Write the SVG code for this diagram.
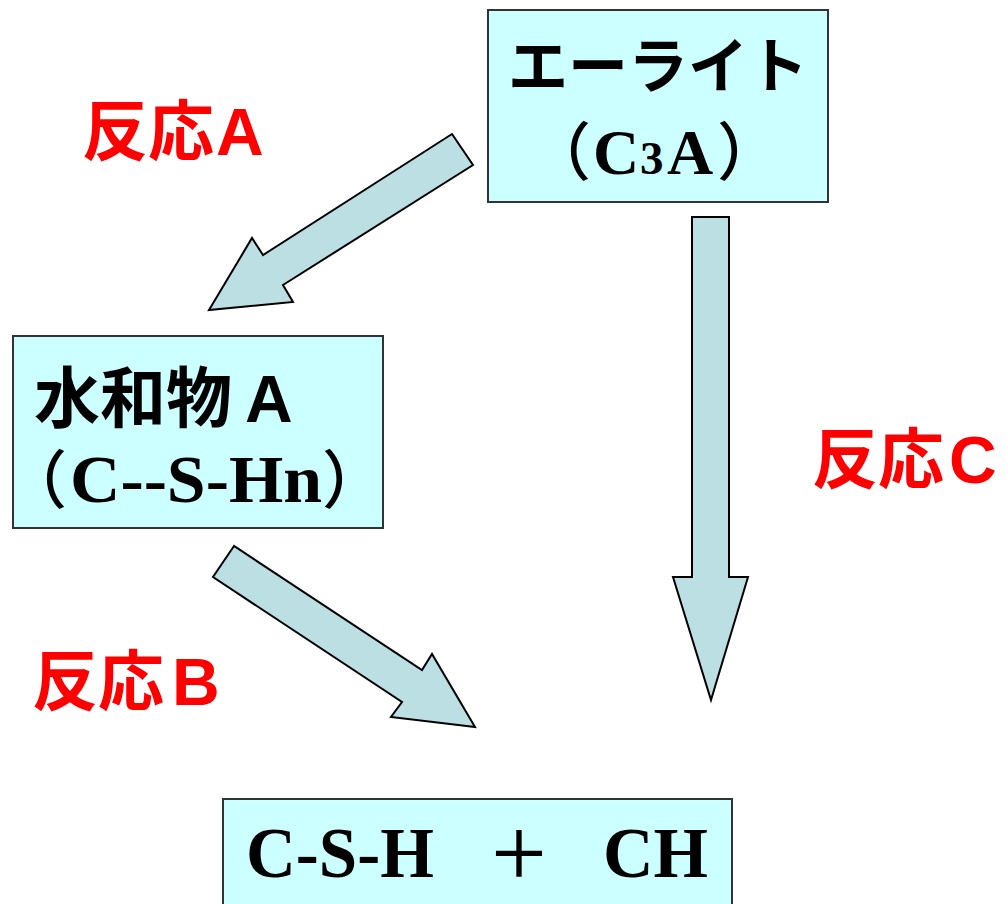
<svg xmlns="http://www.w3.org/2000/svg" width="1007" height="904" viewBox="0 0 1007 904">
<style>
.box{fill:#CCFFFF;stroke:#333333;stroke-width:2}
.arrow{fill:#BBDFE3;stroke:#000000;stroke-width:2;stroke-linejoin:miter}
.jp{font-family:"Liberation Sans","Noto Sans CJK JP",sans-serif;font-weight:bold;fill:#000000}
.lbl{font-family:"Liberation Sans","Noto Sans CJK JP",sans-serif;font-weight:bold;fill:#FF0000;font-size:66px}
.tr{font-family:"Liberation Serif","Noto Sans CJK JP",serif;font-weight:bold;fill:#000000}
.par{font-family:"Noto Sans CJK JP",sans-serif;font-weight:500}
</style>
<rect width="1007" height="904" fill="#FFFFFF"/>
<g id="connectors">
<polygon class="arrow" points="452,134 473,165 283,285 293,302 209,310 252,238 263,255"/>
<polygon class="arrow" points="234,546 213,577 402,702 391,717 475,727 432,654 422,670"/>
<polygon class="arrow" points="692,217 729,217 729,577 748,577 711,700 673,577 692,577"/>
</g>
<g id="node-alite">
<rect class="box" x="488" y="10" width="340" height="192"/>
<text class="jp" x="658" y="88" font-size="60" text-anchor="middle">エーライト</text>
<text class="tr" y="174" font-size="64"><tspan class="par" x="528" font-size="63">（</tspan><tspan x="593">C</tspan><tspan x="640" font-size="47">3</tspan><tspan x="667">A</tspan><tspan class="par" x="717" font-size="63">）</tspan></text>
</g>
<g id="node-hydrateA">
<rect class="box" x="13" y="336" width="370" height="192"/>
<text class="jp" x="34" y="422" font-size="66">水和物<tspan x="245">A</tspan></text>
<text class="tr par" x="4" y="502" font-size="63">（</text>
<text class="tr" x="70" y="502" font-size="68" textLength="252" lengthAdjust="spacingAndGlyphs">C--S-Hn</text>
<text class="tr par" x="322" y="502" font-size="63">）</text>
</g>
<g id="node-product">
<rect class="box" x="223" y="799" width="509" height="115"/>
<text class="tr" x="246" y="877" font-size="72" textLength="188" lengthAdjust="spacingAndGlyphs">C-S-H</text>
<text class="tr par" x="519" y="877" font-size="64" text-anchor="middle">＋</text>
<text class="tr" x="603" y="877" font-size="72" textLength="105" lengthAdjust="spacingAndGlyphs">CH</text>
</g>
<g id="labels">
<text class="lbl" x="82" y="155">反応<tspan x="216">A</tspan></text>
<text class="lbl" x="32" y="705">反応<tspan x="172">B</tspan></text>
<text class="lbl" x="812" y="483">反応<tspan x="949">C</tspan></text>
</g>
</svg>
